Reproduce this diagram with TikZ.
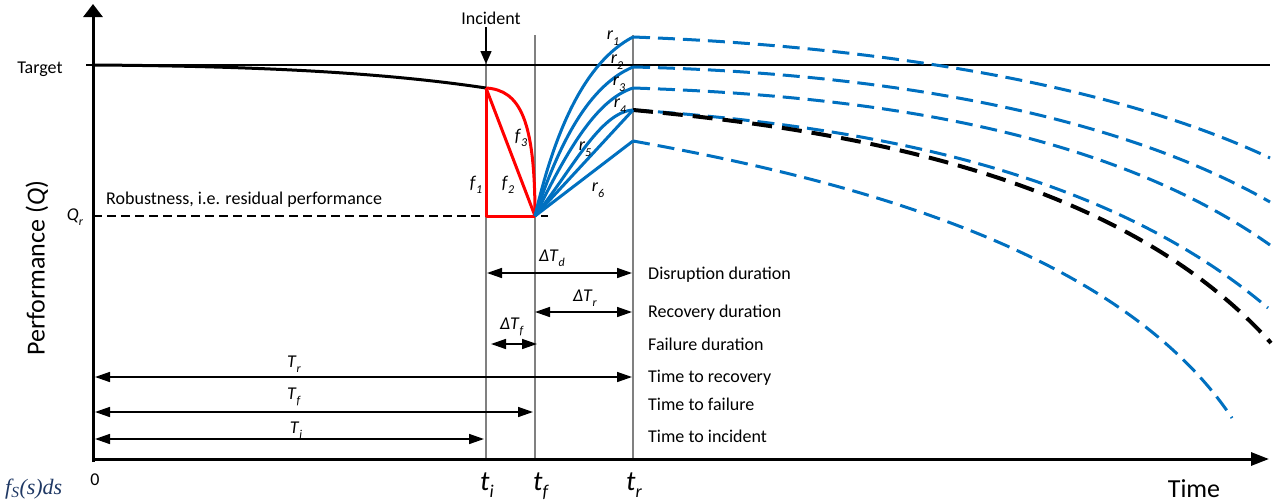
\documentclass[tikz,border=0pt]{standalone}
\usepackage{fontspec}
\setmainfont{Carlito}
\newfontfamily\timesfont{Liberation Serif}
\usetikzlibrary{arrows.meta}
\definecolor{rblue}{HTML}{0070C0}
\definecolor{rred}{HTML}{FF0000}
\definecolor{rgray}{HTML}{808080}
\definecolor{rnavy}{HTML}{1F3864}
\newcommand\lsub[2]{\textit{#1}\raisebox{-0.3em}{\fontsize{12}{12}\selectfont\textit{#2}}}
\newcommand\tsub[2]{\textit{#1}\raisebox{-0.25em}{\fontsize{18}{18}\selectfont\textit{#2}}}
\begin{document}
\begin{tikzpicture}[x=1pt,y=-1pt,
  lab/.style={font=\fontsize{18}{21}\selectfont, inner sep=0pt},
  bigl/.style={font=\fontsize{26}{30}\selectfont, inner sep=0pt},
  tl/.style={font=\fontsize{28}{30}\selectfont, inner sep=0pt},
  graybar/.style={draw=rgray, line width=1.5pt},
  dimarrow/.style={line width=1.5pt, {Triangle[length=15pt,width=10pt]}-{Triangle[length=15pt,width=10pt]}},
  onearrow/.style={line width=1.5pt, -{Triangle[length=15pt,width=10pt]}},
  bluesolid/.style={draw=rblue, line width=3pt},
  bluedash/.style={draw=rblue, line width=3pt, dash pattern=on 17pt off 8pt},
  blackdash/.style={draw=black, line width=4pt, dash pattern=on 20pt off 10pt},
  redline/.style={draw=rred, line width=3pt, line join=round},
]
\clip (0,0) rectangle (1274,501);
\useasboundingbox (0,0) rectangle (1274,501);

% key points
\coordinate (O) at (93,459);
\coordinate (Ybot) at (93,462);
\coordinate (Ytop) at (93,4);
\coordinate (Xbeg) at (92,459);
\coordinate (Xend) at (1269,459);
\coordinate (T0) at (93,65);
\coordinate (T1) at (1270,65);
\coordinate (tick) at (86,65);
\coordinate (Pi) at (486,88);
\coordinate (Qi) at (486,216);
\coordinate (Qf) at (535,216);
\coordinate (Qs) at (93,216);
\coordinate (Qe) at (548,216);
\coordinate (R1) at (633,37);
\coordinate (R2) at (633,67);
\coordinate (R3) at (633,88);
\coordinate (R4) at (633,110);
\coordinate (R6) at (633,141);
\coordinate (E1) at (1270,158);
\coordinate (E2) at (1270,202);
\coordinate (E3) at (1270,245);
\coordinate (E4) at (1268,308);
\coordinate (EK) at (1271,343);
\coordinate (E6) at (1232,418);
\coordinate (GItop) at (486,63);
\coordinate (GIbot) at (486,459);
\coordinate (GFtop) at (535,35);
\coordinate (GFbot) at (535,459);
\coordinate (GRtop) at (633,35);
\coordinate (GRbot) at (633,459);
\coordinate (IAs) at (486,27);
\coordinate (IAe) at (486,64);

% vertical gray lines
\draw[graybar] (GItop) -- (GIbot);
\draw[graybar] (GFtop) -- (GFbot);
\draw[graybar] (GRtop) -- (GRbot);

% target line
\draw[line width=1.5pt] (tick) -- (T1);

% robustness dashed line
\draw[line width=1.8pt, dash pattern=on 9pt off 5pt] (Qs) -- (Qe);

% performance before incident
\draw[line width=3pt] (T0) .. controls (250,66) and (380,72) .. (Pi);

% incident arrow
\draw[line width=1.5pt, -{Triangle[length=13pt,width=11pt]}] (IAs) -- (IAe);

% continuation dashed curves
\draw[bluedash] (R1) .. controls (850,45) and (1100,78) .. (E1);
\draw[bluedash] (R2) .. controls (850,72) and (1100,105) .. (E2);
\draw[bluedash] (R3) .. controls (850,95) and (1100,125) .. (E3);
\draw[bluedash] (R4) .. controls (850,125) and (1100,165) .. (E4);
\draw[blackdash] (R4) .. controls (850,130) and (1120,175) .. (EK);
\draw[bluedash] (R6) .. controls (850,180) and (1120,250) .. (E6);

% failure curves (red)
\draw[redline] (Pi) -- (Qi) -- (Qf);
\draw[redline] (Pi) -- (Qf);
\draw[redline] (Pi) .. controls (520,90) and (535,120) .. (Qf);

% recovery curves (blue)
\draw[bluesolid] (Qf) .. controls (555,130) and (585,62) .. (R1);
\draw[bluesolid] (Qf) .. controls (560,140) and (590,85) .. (R2);
\draw[bluesolid] (Qf) .. controls (565,155) and (595,100) .. (R3);
\draw[bluesolid] (Qf) .. controls (572,170) and (600,112) .. (R4);
\draw[bluesolid] (Qf) -- (R4);
\draw[bluesolid] (Qf) -- (R6);

% axes
\draw[line width=3pt, -{Triangle[length=13pt,width=19pt]}] (Ybot) -- (Ytop);
\draw[line width=3pt, -{Triangle[length=18pt,width=13pt]}] (Xbeg) -- (Xend);

% dimension arrows
\coordinate (Dd1) at (487,273); \coordinate (Dd2) at (632,273);
\coordinate (Dr1) at (535,312); \coordinate (Dr2) at (632,312);
\coordinate (Df1) at (491,344); \coordinate (Df2) at (537,344);
\coordinate (Tr1) at (95,377); \coordinate (Tr2) at (632,377);
\coordinate (Tf1) at (95,412); \coordinate (Tf2) at (533,412);
\coordinate (Ti1) at (95,439); \coordinate (Ti2) at (484,439);
\draw[dimarrow] (Dd1) -- (Dd2);
\draw[dimarrow] (Dr1) -- (Dr2);
\draw[dimarrow] (Df1) -- (Df2);
\draw[dimarrow] (Tr1) -- (Tr2);
\draw[dimarrow] (Tf1) -- (Tf2);
\draw[dimarrow] (Ti1) -- (Ti2);

% labels
\node[lab] (target) at (40,69) {Target};
\node[bigl, rotate=90] (perf) at (37,268) {Performance (\textit{Q})};
\node[lab] (qr) at (75,217) {\lsub{Q}{r}};
\node[lab, anchor=west] (robust) at (106,200) {Robustness, i.e. residual performance};
\node[lab] (incident) at (491,18) {Incident};
\node[lab] (f1) at (476,185) {\lsub{f}{1}};
\node[lab] (f2) at (508,185) {\lsub{f}{2}};
\node[lab] (f3) at (521,138) {\lsub{f}{3}};
\node[lab] (r1) at (613,38) {\lsub{r}{1}};
\node[lab] (r2) at (617,62) {\lsub{r}{2}};
\node[lab] (r3) at (619,84) {\lsub{r}{3}};
\node[lab] (r4) at (620,106) {\lsub{r}{4}};
\node[lab] (r5) at (585,149) {\lsub{r}{5}};
\node[lab] (r6) at (598,190) {\lsub{r}{6}};
\node[lab] (dTd) at (552,258) {\lsub{ΔT}{d}};
\node[lab] (dTr) at (585,298) {\lsub{ΔT}{r}};
\node[lab] (dTf) at (512,327) {\lsub{ΔT}{f}};
\node[lab] (Tr) at (294,364) {\lsub{T}{r}};
\node[lab] (Tf) at (294,397) {\lsub{T}{f}};
\node[lab] (Ti) at (296,430) {\lsub{T}{i}};
\node[lab, anchor=base west] (ldis) at (648,279) {Disruption duration};
\node[lab, anchor=base west] (lrec) at (648,317) {Recovery duration};
\node[lab, anchor=base west] (lfail) at (648,350) {Failure duration};
\node[lab, anchor=base west] (ltrec) at (648,382) {Time to recovery};
\node[lab, anchor=base west] (ltfail) at (648,410) {Time to failure};
\node[lab, anchor=base west] (ltinc) at (648,442) {Time to incident};
\node[lab] (zero) at (95,480) {0};
\node[tl, anchor=base] (ti) at (487,490) {\tsub{t}{i}};
\node[tl, anchor=base] (tf) at (541,490) {\tsub{t}{f}};
\node[tl, anchor=base] (tr) at (634,490) {\tsub{t}{r}};
\node[bigl, anchor=base] (time) at (1194,497) {Time};
\node[anchor=base west, inner sep=0pt, text=rnavy, font=\timesfont\fontsize{22}{24}\selectfont\itshape] (fs) at (5,494) {f\textsubscript{S}(s)ds};
\end{tikzpicture}
\end{document}
